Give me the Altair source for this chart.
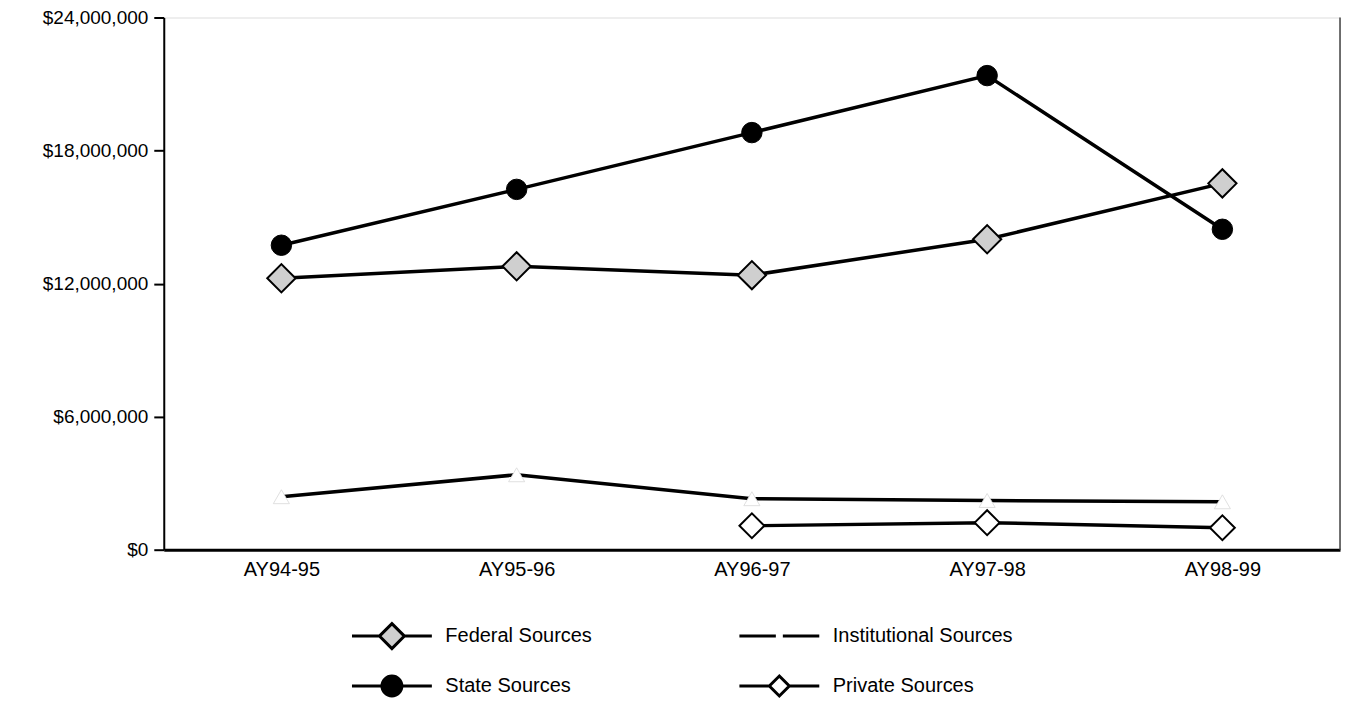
import altair as alt
import pandas as pd

years = ["AY94-95", "AY95-96", "AY96-97", "AY97-98", "AY98-99"]
series = ["Federal Sources", "State Sources", "Institutional Sources", "Private Sources"]
federal = [12240000, 12780000, 12380000, 14000000, 16520000]
state = [13730000, 16250000, 18810000, 21380000, 14450000]
institutional = [2390000, 3380000, 2300000, 2220000, 2160000]
private = [None, None, 1080000, 1220000, 990000]
y_ticks = [0, 6000000, 12000000, 18000000, 24000000]

rows = []
for name, vals in zip(series, [federal, state, institutional, private]):
    for yr, v in zip(years, vals):
        rows.append({"year": yr, "series": name, "value": v})
df = pd.DataFrame(rows)

W, H = 1178, 533
FONT = "Liberation Sans"

x_enc = alt.X("year:N", sort=years, scale=alt.Scale(type="point", padding=0.5),
              axis=alt.Axis(title=None, labelAngle=0, ticks=False, domainWidth=3,
                            domainColor="black", labelFontSize=20, labelPadding=10,
                            labelColor="black", labelFont=FONT))
y_enc = alt.Y("value:Q", scale=alt.Scale(domain=[0, 24000000], nice=False),
              axis=alt.Axis(title=None, values=y_ticks, format="$,.0f", grid=False,
                            domainWidth=2, domainColor="black", tickColor="black",
                            tickWidth=2, tickSize=10, labelFontSize=19, labelPadding=6,
                            labelColor="black", labelFont=FONT))

base = alt.Chart(df)

lines = base.mark_line(color="black", strokeWidth=3.5).encode(
    x=x_enc, y=y_enc, detail="series:N")

def pts(name, shape, fill, stroke, size, sw):
    return base.transform_filter(alt.datum.series == name).mark_point(
        shape=shape, fill=fill, stroke=stroke, size=size, strokeWidth=sw,
        filled=False, opacity=1, fillOpacity=1).encode(x=x_enc, y=y_enc)

p_fed = pts("Federal Sources", "diamond", "#cfcfcf", "black", 800, 2)
p_state = pts("State Sources", "circle", "black", "black", 420, 1)
p_inst = pts("Institutional Sources", "triangle-up", "white", "#d8d8d8", 260, 0.8)
p_priv = pts("Private Sources", "diamond", "white", "black", 620, 2)

# legend symbol paths (unit = 10px at symbolSize 400): line with marker in the middle
paths = [
    "M-4,0L-1.25,0M1.25,0L4,0M0,-1.25L1.25,0L0,1.25L-1.25,0Z",
    "M-4,0L4,0M1,0A1,1 0 1 1 -1,0A1,1 0 1 1 1,0Z",
    "M0,-1.25M0,1.25M-4,0L-0.35,0M0.35,0L4,0",
    "M-4,0L-1,0M1,0L4,0M0,-1L1,0L0,1L-1,0Z",
]
fills = ["#cfcfcf", "black", "white", "white"]
strokes = ["black", "black", "black", "black"]

leg = alt.Legend(
    title=None, orient="none", legendX=187, legendY=608, columns=2,
    columnPadding=141, rowPadding=15, symbolSize=400, symbolOffset=30,
    labelOffset=42, labelFontSize=20, labelFont=FONT, labelColor="black",
    labelLimit=400, symbolStrokeColor="black", symbolStrokeWidth=3, symbolOpacity=1,
)

legend_layer = base.transform_filter("datum.value < 0").mark_point(
    filled=False, stroke="black", strokeWidth=3, opacity=1, fillOpacity=1).encode(
    x=x_enc, y=y_enc,
    shape=alt.Shape("series:N", scale=alt.Scale(domain=series, range=paths), legend=leg),
    fill=alt.Fill("series:N", scale=alt.Scale(domain=series, range=fills), legend=leg),
    stroke=alt.Stroke("series:N", scale=alt.Scale(domain=series, range=strokes), legend=leg),
)

right_border = alt.Chart(pd.DataFrame({"a": [0]})).mark_rule(
    color="#444444", strokeWidth=1.5).encode(
    x=alt.value(W), y=alt.value(0), y2=alt.value(H))

chart = alt.layer(lines, p_fed, p_state, p_inst, p_priv, legend_layer, right_border).properties(
    width=W, height=H,
    autosize=alt.AutoSizeParams(type="none"),
    padding={"left": 156, "top": 9, "right": 2, "bottom": 150},
).configure_view(stroke=None).configure(background="white")

chart.save("out.html", embed_options={"renderer": "svg", "actions": False})
